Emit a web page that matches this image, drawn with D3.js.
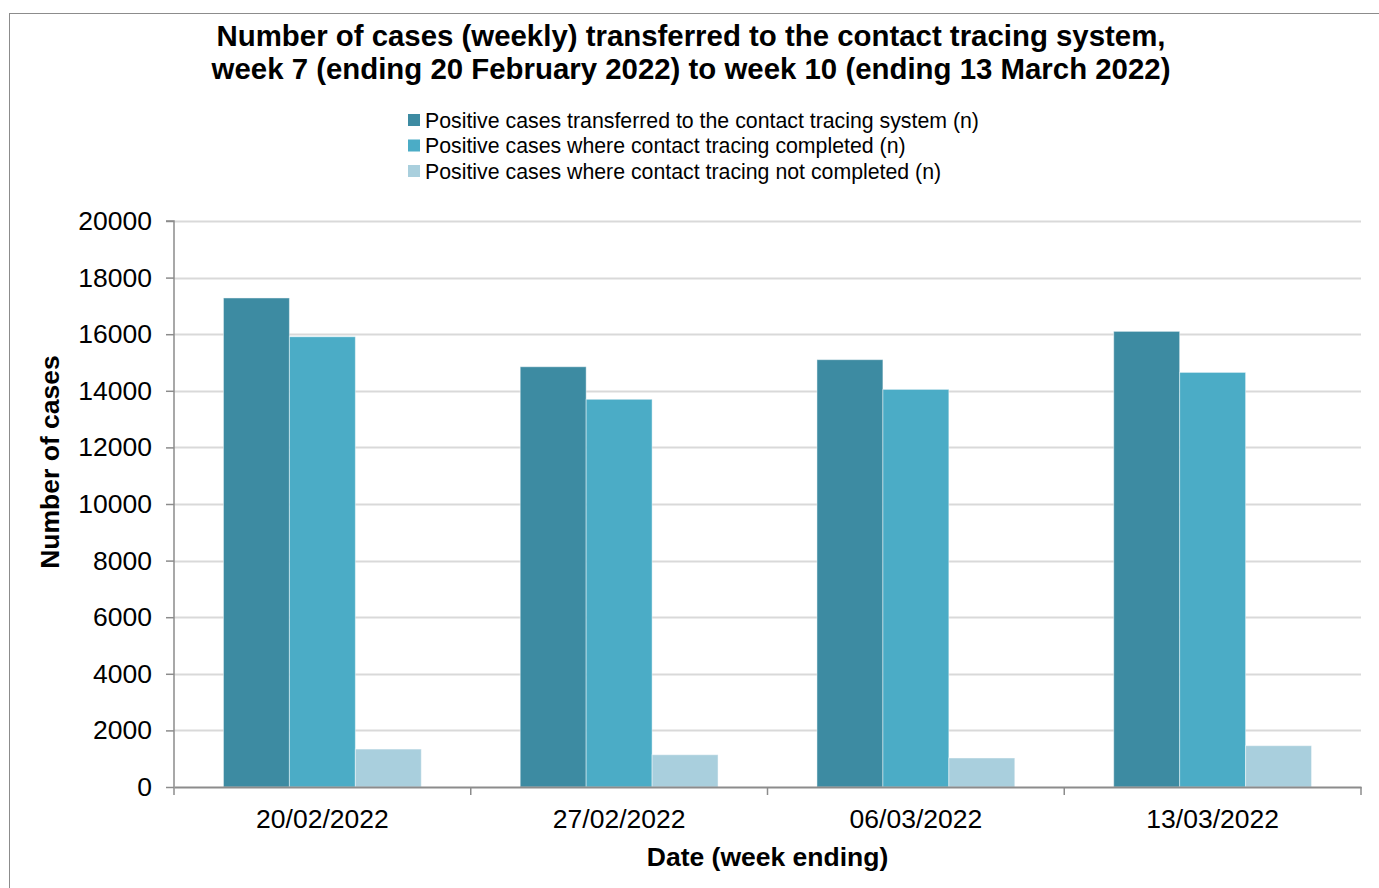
<!DOCTYPE html>
<html>
<head>
<meta charset="utf-8">
<script src="https://cdn.jsdelivr.net/npm/d3@7"></script>
<style>
  html, body { margin: 0; padding: 0; background: #fff; }
  svg { display: block; font-family: "Liberation Sans", Arial, sans-serif; }
</style>
</head>
<body>
<div id="chart"></div>
<script>
const weeks = ["20/02/2022", "27/02/2022", "06/03/2022", "13/03/2022"];
const seriesNames = [
  "Positive cases transferred to the contact tracing system (n)",
  "Positive cases where contact tracing completed (n)",
  "Positive cases where contact tracing not completed (n)"
];
const transferred = [17280, 14850, 15100, 16100];
const completed = [15910, 13700, 14050, 14650];
const notCompleted = [1340, 1140, 1025, 1460];
const yTicks = [0, 2000, 4000, 6000, 8000, 10000, 12000, 14000, 16000, 18000, 20000];
const colors = ["#3d8ba2", "#4bacc6", "#a9cfdd"];

const width = 1379, height = 888;
const margin = {top: 221, right: 18, bottom: 101, left: 174};
const tickFont = 26.5;

const svg = d3.select("#chart").append("svg")
  .attr("width", width)
  .attr("height", height);

// outer frame
svg.append("rect")
  .attr("x", 9.5).attr("y", 13.5)
  .attr("width", width).attr("height", height)
  .attr("fill", "none")
  .attr("stroke", "#8c8c8c");

const x0 = d3.scaleBand()
  .domain(weeks)
  .range([margin.left, width - margin.right]);

const x1 = d3.scaleBand()
  .domain(d3.range(seriesNames.length))
  .range([x0.bandwidth() / 6, x0.bandwidth() * 5 / 6]);

const y = d3.scaleLinear()
  .domain([0, 20000])
  .range([height - margin.bottom, margin.top]);

// gridlines
svg.append("g")
  .selectAll("line")
  .data(yTicks.slice(1))
  .join("line")
  .attr("x1", margin.left).attr("x2", width - margin.right)
  .attr("y1", d => Math.round(y(d)) + 0.5).attr("y2", d => Math.round(y(d)) + 0.5)
  .attr("stroke", "#d9d9d9")
  .attr("stroke-width", 2);

// bars
const data = weeks.map((w, i) => ({week: w, values: [transferred[i], completed[i], notCompleted[i]]}));

svg.append("g")
  .selectAll("g")
  .data(data)
  .join("g")
  .attr("transform", d => `translate(${x0(d.week)},0)`)
  .selectAll("rect")
  .data(d => d.values.map((v, k) => ({k, v})))
  .join("rect")
  .attr("x", d => x1(d.k))
  .attr("width", x1.bandwidth())
  .attr("y", d => y(d.v))
  .attr("height", d => y(0) - y(d.v))
  .attr("fill", d => colors[d.k])
  .attr("stroke", "rgba(255,255,255,0.45)")
  .attr("stroke-width", 1);

// y axis
const yAxis = svg.append("g")
  .attr("transform", `translate(${margin.left},0)`)
  .call(d3.axisLeft(y).tickValues(yTicks).tickSize(8).tickPadding(14).tickFormat(d3.format("d")));
yAxis.selectAll("path, line").attr("stroke", "#8c8c8c").attr("stroke-width", 1.5);
yAxis.select(".domain").attr("d", `M-8,${y(20000)}H0V${y(0)}`);
yAxis.selectAll("text").attr("font-size", tickFont).attr("fill", "#000").attr("font-family", "Liberation Sans, Arial, sans-serif");

// x axis
const xAxis = svg.append("g")
  .attr("transform", `translate(0,${y(0)})`)
  .call(d3.axisBottom(x0).tickSize(0).tickPadding(22));
xAxis.select(".domain").attr("stroke", "#8c8c8c").attr("stroke-width", 2);
xAxis.selectAll("text").attr("font-size", tickFont).attr("fill", "#000").attr("font-family", "Liberation Sans, Arial, sans-serif");

// category dividers on x axis
svg.append("g")
  .selectAll("line")
  .data(weeks.map(w => x0(w)).concat([width - margin.right]))
  .join("line")
  .attr("x1", d => d).attr("x2", d => d)
  .attr("y1", y(0)).attr("y2", y(0) + 8)
  .attr("stroke", "#8c8c8c").attr("stroke-width", 1.5);

// title
const title = svg.append("text")
  .attr("text-anchor", "middle")
  .attr("font-size", 29.4)
  .attr("font-weight", "bold");
title.append("tspan").attr("x", 691).attr("y", 46)
  .text("Number of cases (weekly) transferred to the contact tracing system,");
title.append("tspan").attr("x", 691).attr("y", 79)
  .text("week 7 (ending 20 February 2022) to week 10 (ending 13 March 2022)");

// legend
const legend = svg.append("g")
  .selectAll("g")
  .data(seriesNames)
  .join("g")
  .attr("transform", (d, i) => `translate(408,${120 + i * 25.5})`);
legend.append("rect")
  .attr("x", 0).attr("y", -6)
  .attr("width", 12).attr("height", 12)
  .attr("fill", (d, i) => colors[i]);
legend.append("text")
  .attr("x", 17).attr("y", 7.5)
  .attr("font-size", 21.3)
  .text(d => d);

// axis titles
svg.append("text")
  .attr("x", (margin.left + width - margin.right) / 2)
  .attr("y", 866)
  .attr("text-anchor", "middle")
  .attr("font-size", 26.5)
  .attr("font-weight", "bold")
  .text("Date (week ending)");

svg.append("text")
  .attr("transform", `translate(59,462) rotate(-90)`)
  .attr("text-anchor", "middle")
  .attr("font-size", 26.5)
  .attr("font-weight", "bold")
  .text("Number of cases");
</script>
</body>
</html>
